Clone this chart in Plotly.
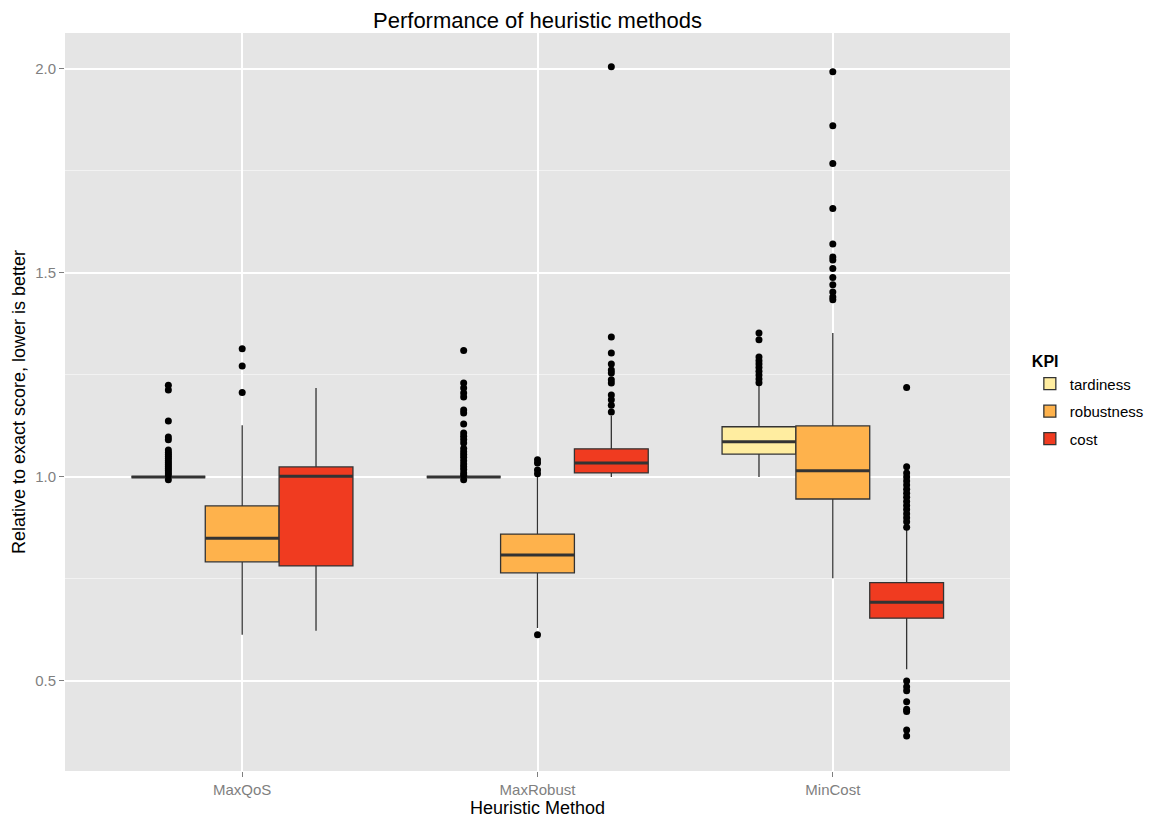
import plotly.graph_objects as go

methods = ["MaxQoS", "MaxRobust", "MinCost"]
kpis = ["tardiness", "robustness", "cost"]
colors = ["#FFEDA0", "#FEB24C", "#F03B20"]

# quartile summaries per KPI (order of methods)
q1 = {
    "tardiness": [1.0, 1.0, 1.056],
    "robustness": [0.792, 0.765, 0.946],
    "cost": [0.782, 1.010, 0.654],
}
median = {
    "tardiness": [1.0, 1.0, 1.086],
    "robustness": [0.850, 0.809, 1.015],
    "cost": [1.002, 1.034, 0.693],
}
q3 = {
    "tardiness": [1.0, 1.0, 1.123],
    "robustness": [0.929, 0.860, 1.125],
    "cost": [1.0245, 1.069, 0.741],
}
lowerfence = {
    "tardiness": [1.0, 1.0, 1.0],
    "robustness": [0.613, 0.630, 0.752],
    "cost": [0.623, 1.0, 0.529],
}
upperfence = {
    "tardiness": [1.0, 1.0, 1.223],
    "robustness": [1.127, 1.0, 1.353],
    "cost": [1.218, 1.15, 0.870],
}
outliers = {
    "tardiness": [
        [1.225, 1.213, 1.137, 1.098, 1.091, 1.066, 1.060, 1.055, 1.050, 1.045, 1.040,
         1.035, 1.030, 1.025, 1.020, 1.015, 1.010, 1.005, 0.993],
        [1.31, 1.23, 1.218, 1.206, 1.196, 1.164, 1.157, 1.13, 1.108, 1.100, 1.092,
         1.083, 1.07, 1.062, 1.055, 1.048, 1.040, 1.032, 1.025, 1.018, 1.010, 1.004, 0.993],
        [1.353, 1.336, 1.294, 1.285, 1.277, 1.268, 1.259, 1.250, 1.240, 1.231],
    ],
    "robustness": [
        [1.314, 1.272, 1.207],
        [1.042, 1.034, 1.017, 1.008, 0.613],
        [1.993, 1.861, 1.768, 1.658, 1.571, 1.539, 1.532, 1.511, 1.489, 1.471,
         1.453, 1.441, 1.434],
    ],
    "cost": [
        [],
        [2.005, 1.343, 1.304, 1.277, 1.262, 1.255, 1.238, 1.230, 1.201, 1.189,
         1.176, 1.159],
        [1.219, 1.025, 1.010, 1.0, 0.99, 0.98, 0.97, 0.96, 0.95, 0.94, 0.93, 0.92,
         0.91, 0.90, 0.89, 0.877, 0.5, 0.486, 0.476, 0.449, 0.431, 0.425, 0.380, 0.365],
    ],
}

box_w = 0.25
offsets = {"tardiness": -0.25, "robustness": 0.0, "cost": 0.25}
outline = "#333333"

fig = go.Figure()

for kpi, col in zip(kpis, colors):
    pos = [i + 1 + offsets[kpi] for i in range(len(methods))]
    fig.add_trace(go.Box(
        x=pos, q1=q1[kpi], median=median[kpi], q3=q3[kpi],
        lowerfence=lowerfence[kpi], upperfence=upperfence[kpi],
        name=kpi, legendgroup=kpi,
        fillcolor=col, line=dict(color=outline, width=1.3),
        width=box_w, whiskerwidth=0, boxpoints=False, hoverinfo="skip",
    ))

for kpi in kpis:
    pos = [i + 1 + offsets[kpi] for i in range(len(methods))]
    mx, my = [], []
    for p, m in zip(pos, median[kpi]):
        mx += [p - box_w / 2, p + box_w / 2, None]
        my += [m, m, None]
    fig.add_trace(go.Scatter(
        x=mx, y=my, mode="lines", line=dict(color=outline, width=3),
        showlegend=False, legendgroup=kpi, hoverinfo="skip",
    ))

for kpi in kpis:
    ox, oy = [], []
    for i, vals in enumerate(outliers[kpi]):
        p = i + 1 + offsets[kpi]
        ox += [p] * len(vals)
        oy += vals
    fig.add_trace(go.Scatter(
        x=ox, y=oy, mode="markers",
        marker=dict(color="black", size=7),
        showlegend=False, legendgroup=kpi, hoverinfo="skip",
    ))

font_family = "Liberation Sans, Arial, sans-serif"

fig.update_layout(
    width=1149, height=818,
    margin=dict(l=65, r=139, t=33, b=47, autoexpand=False),
    paper_bgcolor="white", plot_bgcolor="#E5E5E5",
    font=dict(family=font_family, color="black"),
    boxmode="overlay",
    title=dict(text="Performance of heuristic methods", x=0.5, xref="paper",
               xanchor="center", y=1 - 20 / 818, yref="container", yanchor="middle",
               font=dict(size=22, color="black")),
    legend=dict(
        title=dict(text="<b>KPI</b>", font=dict(size=16)),
        x=1.021, xanchor="left", y=0.575, yanchor="top",
        font=dict(size=15), bgcolor="white",
        traceorder="grouped", tracegroupgap=5,
    ),
    showlegend=True,
)

fig.update_xaxes(
    range=[0.4, 3.6], tickmode="array", tickvals=[1, 2, 3], ticktext=methods,
    showgrid=True, gridcolor="white", gridwidth=2, zeroline=False,
    ticks="outside", ticklen=5, tickcolor="#7F7F7F",
    tickfont=dict(size=15, color="#7F7F7F"),
    title=dict(text="Heuristic Method", font=dict(size=18), standoff=2),
)
fig.update_yaxes(
    range=[0.2794, 2.088], tickmode="array", tickvals=[0.5, 1.0, 1.5, 2.0],
    tickformat=".1f",
    showgrid=True, gridcolor="white", gridwidth=2, zeroline=False,
    minor=dict(tickvals=[0.75, 1.25, 1.75], showgrid=True, gridcolor="#F2F2F2", gridwidth=1),
    ticks="outside", ticklen=5, tickcolor="#7F7F7F",
    tickfont=dict(size=15, color="#7F7F7F"),
    title=dict(text="Relative to exact score, lower is better", font=dict(size=18), standoff=4),
)

fig.write_html("out.html")
